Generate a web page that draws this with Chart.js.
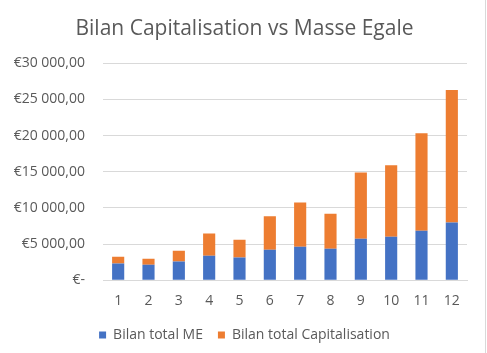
<!DOCTYPE html>
<html>
<head>
<meta charset="utf-8">
<script src="https://cdn.jsdelivr.net/npm/chart.js@4"></script>
<style>
  body { margin: 0; background: #fff; }
  #wrap { width: 485px; height: 353px; border-right: 1px solid #d9d9d9; }
</style>
</head>
<body>
<div id="wrap"><canvas id="chart"></canvas></div>
<script>
//data
const labels = ["1", "2", "3", "4", "5", "6", "7", "8", "9", "10", "11", "12"];
const bilanME = [2300, 2120, 2580, 3370, 3140, 4200, 4630, 4350, 5740, 6010, 6850, 7960];
const bilanCapi = [940, 840, 1490, 3100, 2460, 4630, 6110, 4850, 9160, 9870, 13470, 18330];
const yTicks = [0, 5000, 10000, 15000, 20000, 25000, 30000];

const grey = "#595959";
const fontName = "'Open Sans', 'Liberation Sans', sans-serif";

//€30 000,00 style labels, zero is "€-"
function euro(v) {
  if (v == 0) return "€-";
  let s = Math.round(v).toString().replace(/\B(?=(\d{3})+(?!\d))/g, " ");
  return "€" + s + ",00";
}

const ctx = document.getElementById("chart");
const myChart = new Chart(ctx, {
  type: "bar",
  data: {
    labels: labels,
    datasets: [
      { label: "Bilan total ME", data: bilanME, backgroundColor: "#4472C4", barPercentage: 0.4, categoryPercentage: 1 },
      { label: "Bilan total Capitalisation", data: bilanCapi, backgroundColor: "#ED7D31", barPercentage: 0.4, categoryPercentage: 1 },
    ],
  },
  options: {
    responsive: true,
    maintainAspectRatio: false,
    animation: false,
    layout: { padding: { left: 12, right: 8, top: 4, bottom: 1 } },
    plugins: {
      title: {
        display: true,
        text: "Bilan Capitalisation vs Masse Egale",
        color: grey,
        font: { family: fontName, size: 21, weight: "normal" },
        padding: { top: 12, bottom: 22 },
      },
      legend: {
        position: "bottom",
        labels: {
          color: grey,
          font: { family: fontName, size: 14 },
          boxWidth: 7,
          boxHeight: 7,
          padding: 15,
        },
      },
      tooltip: { enabled: false },
    },
    scales: {
      x: {
        stacked: true,
        grid: { display: false },
        border: { color: "#d9d9d9" },
        ticks: { color: grey, font: { family: fontName, size: 14 }, padding: 4 },
      },
      y: {
        stacked: true,
        min: 0,
        max: 30000,
        afterBuildTicks: (axis) => { axis.ticks = yTicks.map((v) => ({ value: v })); },
        afterFit: (axis) => { axis.width = 91; },
        grid: { color: "#d9d9d9", drawTicks: false },
        border: { display: false },
        ticks: {
          color: grey,
          font: { family: fontName, size: 14 },
          padding: 18,
          callback: (v) => euro(v),
        },
      },
      //empty axis on the right, only to leave the gap after the plot
      gap: {
        position: "right",
        grid: { display: false },
        border: { display: false },
        ticks: { display: false },
        afterFit: (axis) => { axis.width = 10; },
      },
    },
  },
});
</script>
</body>
</html>
